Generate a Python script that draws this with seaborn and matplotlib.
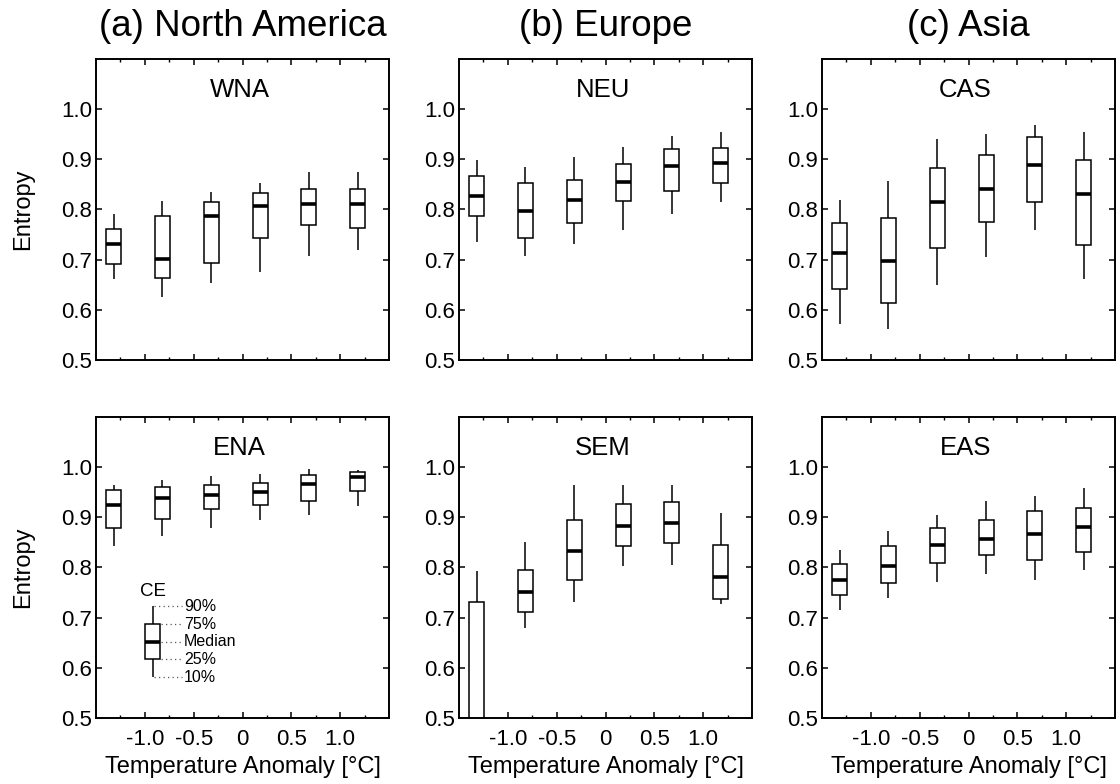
import numpy as np
import pandas as pd
import matplotlib
matplotlib.use("Agg")
import matplotlib.pyplot as plt
from matplotlib.ticker import FixedLocator
import seaborn as sns

# ---------------- data ----------------
temp_bins = [-1.32, -0.82, -0.32, 0.18, 0.68, 1.18]
x_ticks = [-1.0, -0.5, 0.0, 0.5, 1.0]
x_ticklabels = ["-1.0", "-0.5", "0", "0.5", "1.0"]
x_minor = [-1.25, -0.75, -0.25, 0.25, 0.75, 1.25]
y_ticks = [0.5, 0.6, 0.7, 0.8, 0.9, 1.0]
y_ticklabels = ["0.5", "0.6", "0.7", "0.8", "0.9", "1.0"]
continent_titles = ["(a) North America", "(b) Europe", "(c) Asia"]
region_names = [["WNA", "NEU", "CAS"], ["ENA", "SEM", "EAS"]]
percentile_labels = ["10%", "25%", "Median", "75%", "90%"]

# each row: 10%, 25%, median, 75%, 90% of entropy for one temperature bin
wna = [[0.661, 0.691, 0.732, 0.760, 0.791],
       [0.626, 0.663, 0.701, 0.786, 0.817],
       [0.654, 0.693, 0.786, 0.814, 0.834],
       [0.676, 0.743, 0.807, 0.833, 0.853],
       [0.707, 0.769, 0.811, 0.840, 0.874],
       [0.719, 0.763, 0.811, 0.841, 0.874]]
neu = [[0.735, 0.786, 0.826, 0.867, 0.898],
       [0.707, 0.744, 0.797, 0.853, 0.884],
       [0.732, 0.773, 0.819, 0.859, 0.904],
       [0.758, 0.817, 0.855, 0.891, 0.925],
       [0.790, 0.836, 0.887, 0.921, 0.946],
       [0.815, 0.853, 0.892, 0.923, 0.954]]
cas = [[0.571, 0.641, 0.713, 0.772, 0.819],
       [0.562, 0.613, 0.697, 0.783, 0.857],
       [0.649, 0.724, 0.815, 0.883, 0.940],
       [0.706, 0.775, 0.840, 0.908, 0.951],
       [0.759, 0.815, 0.888, 0.944, 0.969],
       [0.662, 0.730, 0.831, 0.898, 0.954]]
ena = [[0.843, 0.879, 0.924, 0.954, 0.965],
       [0.862, 0.897, 0.938, 0.960, 0.975],
       [0.879, 0.917, 0.945, 0.965, 0.982],
       [0.895, 0.925, 0.951, 0.969, 0.987],
       [0.905, 0.933, 0.967, 0.985, 0.997],
       [0.923, 0.953, 0.981, 0.990, 0.994]]
sem = [[0.330, 0.400, 0.470, 0.732, 0.793],
       [0.679, 0.712, 0.751, 0.794, 0.851],
       [0.731, 0.775, 0.833, 0.895, 0.965],
       [0.802, 0.842, 0.883, 0.927, 0.965],
       [0.805, 0.848, 0.889, 0.930, 0.965],
       [0.728, 0.737, 0.780, 0.845, 0.908]]
eas = [[0.715, 0.745, 0.775, 0.807, 0.835],
       [0.739, 0.769, 0.802, 0.842, 0.873],
       [0.771, 0.808, 0.845, 0.879, 0.905],
       [0.787, 0.825, 0.857, 0.895, 0.933],
       [0.775, 0.814, 0.867, 0.913, 0.943],
       [0.795, 0.831, 0.881, 0.918, 0.959]]
region_data = [[wna, neu, cas], [ena, sem, eas]]

# schematic legend box (CE) values: 10, 25, 50, 75, 90
legend_box = [0.581, 0.617, 0.652, 0.687, 0.723]
legend_x = -0.92

# ---------------- style ----------------
sns.set_style("ticks")
plt.rcParams["font.family"] = ["Liberation Sans", "DejaVu Sans"]
plt.rcParams["axes.linewidth"] = 1.4
for key in ["text.color", "axes.labelcolor", "xtick.color", "ytick.color",
            "axes.edgecolor"]:
    plt.rcParams[key] = "black"

fig = plt.figure(figsize=(11.2, 7.84), dpi=100)
W, H = 1120.0, 784.0
col_left = [96, 459, 822]
ax_w = 293
row_top = [59, 417]
ax_h = 301

box_kw = dict(orient="x", native_scale=True, whis=(0, 100), showcaps=False,
              showfliers=False, fill=True, color="white", saturation=1,
              linecolor="black", linewidth=1.1,
              medianprops=dict(linewidth=2.6, color="black"))


def to_frame(rows, positions):
    xs, ys = [], []
    for pos, vals in zip(positions, rows):
        for v in vals:
            xs.append(pos)
            ys.append(v)
    return pd.DataFrame({"temp": xs, "entropy": ys})


for r in range(2):
    for c in range(3):
        left = col_left[c] / W
        bottom = 1 - (row_top[r] + ax_h) / H
        ax = fig.add_axes([left, bottom, ax_w / W, ax_h / H])
        df = to_frame(region_data[r][c], temp_bins)
        sns.boxplot(data=df, x="temp", y="entropy", ax=ax, width=0.31, **box_kw)

        if r == 1 and c == 0:
            ldf = pd.DataFrame({"temp": [legend_x] * len(legend_box),
                                "entropy": legend_box})
            sns.boxplot(data=ldf, x="temp", y="entropy", ax=ax, width=0.155, **box_kw)
            half = 0.155 / 2
            for i in range(len(legend_box)):
                y = legend_box[i]
                x0 = legend_x if i in (0, 4) else legend_x + half
                ax.plot([x0 + 0.01, -0.615], [y, y], color="#555555",
                        linewidth=0.9, linestyle=(0, (1, 2.6)))
                ax.text(-0.60, y, percentile_labels[i], fontsize=11.5,
                        va="center", ha="left")
            ax.text(legend_x, 0.752, "CE", fontsize=13.5, ha="center", va="center")

        ax.set_xlim(-1.5, 1.5)
        ax.set_ylim(0.5, 1.0996)
        ax.xaxis.set_major_locator(FixedLocator(x_ticks))
        ax.xaxis.set_minor_locator(FixedLocator(x_minor))
        ax.set_yticks(y_ticks)
        ax.set_yticklabels(y_ticklabels)
        ax.tick_params(axis="both", which="major", direction="in", length=4,
                       width=1.1, top=True, right=True, labelsize=16, pad=3,
                       color="black", labelcolor="black")
        ax.tick_params(axis="x", which="minor", direction="in", length=2.2,
                       width=1.0, top=True, bottom=True, color="black")
        if r == 1:
            ax.set_xticklabels(x_ticklabels)
            ax.tick_params(axis="x", which="major", pad=8)
            ax.set_xlabel("Temperature Anomaly [°C]", fontsize=17, color="black")
            ax.xaxis.label.set_va("center")
            ax.xaxis.set_label_coords(0.5, -0.163)
        else:
            ax.set_xticklabels([])
            ax.set_xlabel("")
        if c == 0:
            ax.set_ylabel("Entropy", fontsize=17, color="black")
            ax.yaxis.label.set_va("center")
            ax.yaxis.set_label_coords(-0.249, 0.5)
        else:
            ax.set_ylabel("")
        for s in ax.spines.values():
            s.set_visible(True)
            s.set_linewidth(1.4)
            s.set_color("black")
        ax.text(0.49, 0.897, region_names[r][c], transform=ax.transAxes,
                ha="center", va="center", fontsize=18.5, color="black")

for c in range(3):
    fig.text((col_left[c] + ax_w / 2) / W, 1 - 27 / H, continent_titles[c],
             ha="center", va="center", fontsize=26.5, color="black")

fig.savefig("out.png", dpi=100)
